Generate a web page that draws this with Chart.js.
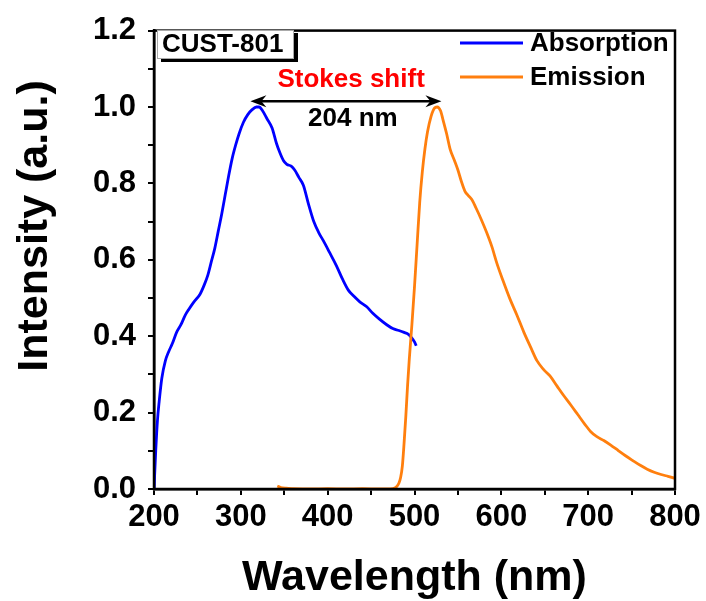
<!DOCTYPE html>
<html>
<head>
<meta charset="utf-8">
<script src="https://cdn.jsdelivr.net/npm/chart.js@4.4.0/dist/chart.umd.min.js"></script>
<style>
  html, body { margin: 0; padding: 0; background: #fff; }
  #wrap { width: 706px; height: 601px; }
</style>
</head>
<body>
<div id="wrap"><canvas id="chart" width="706" height="601"></canvas></div>
<script>
// ---------- DATA ----------
const absX = [200,201,202,204,206,209,213,217,221,226,231,236,240,246,253,258,262,266,270,274,278,282,286,290,294,298,303,308,313,318,321,325,330,336,341,345,349,353,358,362,367,372,378,384,390,395,402,410,417,424,430,437,445,452,460,468,475,482,488,493,497,500,502];
const absY = [0,0.05,0.10,0.18,0.23,0.29,0.335,0.36,0.38,0.41,0.43,0.455,0.47,0.49,0.51,0.535,0.56,0.595,0.63,0.675,0.72,0.77,0.82,0.865,0.9,0.93,0.96,0.98,0.993,1.0,1.0,0.99,0.97,0.945,0.905,0.88,0.86,0.85,0.845,0.835,0.815,0.795,0.745,0.7,0.67,0.65,0.62,0.585,0.55,0.52,0.505,0.49,0.477,0.46,0.444,0.43,0.42,0.415,0.41,0.405,0.395,0.385,0.375];

const emX = [342,346,352,360,380,400,420,440,460,475,479,482,484,486,488,490,492,494,497,500,503,506,509,512,515,519,523,526,530,533,537,541,546,550,554,558,562,566,571,577,583,589,595,602,610,618,626,634,641,649,656,664,672,680,688,696,703,710,718,726,735,743,751,760,768,776,784,792,800];
const emY = [0.008,0.004,0.002,0.001,0,0.001,0,0.001,0,0.001,0.005,0.015,0.03,0.06,0.12,0.19,0.27,0.34,0.43,0.53,0.64,0.75,0.83,0.89,0.935,0.975,0.997,1.0,0.99,0.965,0.93,0.89,0.86,0.835,0.805,0.78,0.768,0.758,0.735,0.705,0.672,0.635,0.59,0.545,0.497,0.455,0.41,0.37,0.336,0.312,0.296,0.27,0.244,0.22,0.195,0.17,0.15,0.137,0.127,0.115,0.1,0.087,0.075,0.062,0.052,0.044,0.038,0.033,0.028];

const seriesNames = ["Absorption", "Emission"];
const seriesColors = ["#0000ff", "#ff7f0e"];
const sampleName = "CUST-801";
const shiftTitle = "Stokes shift";
const shiftText = "204 nm";
const arrowFrom = 311;   // nm
const arrowTo = 531;     // nm
const arrowY = 1.015;

const FONT = "'Liberation Sans', Arial, sans-serif";

function toPoints(xs, ys) {
  return xs.map((x, i) => ({ x: x, y: ys[i] }));
}

// ---------- DECORATION ----------
const decor = {
  id: "decor",
  afterDraw(chart) {
    const ctx = chart.ctx;
    const a = chart.chartArea;
    const xs = chart.scales.x;
    const ys = chart.scales.y;
    ctx.save();

    // frame
    ctx.strokeStyle = "#000";
    ctx.lineWidth = 2.5;
    ctx.strokeRect(a.left, a.top, a.right - a.left, a.bottom - a.top);

    // y title
    ctx.save();
    ctx.translate(35, 226);
    ctx.rotate(-Math.PI / 2);
    ctx.fillStyle = "#000";
    ctx.font = "bold 43px " + FONT;
    ctx.textAlign = "center";
    ctx.textBaseline = "middle";
    ctx.fillText("Intensity (a.u.)", 0, 0);
    ctx.restore();

    // sample box with shadow
    ctx.fillStyle = "#000";
    ctx.fillRect(161, 33, 137, 29);
    ctx.fillStyle = "#fff";
    ctx.fillRect(157, 30, 137, 29);
    ctx.strokeStyle = "#aaa";
    ctx.lineWidth = 1;
    ctx.strokeRect(157.5, 30.5, 136, 28);
    ctx.fillStyle = "#000";
    ctx.font = "bold 26px " + FONT;
    ctx.textAlign = "left";
    ctx.textBaseline = "middle";
    ctx.fillText(sampleName, 162, 45);

    // legend
    const legY = [43, 77];
    seriesNames.forEach((name, i) => {
      ctx.strokeStyle = seriesColors[i];
      ctx.lineWidth = 2.8;
      ctx.beginPath();
      ctx.moveTo(460, legY[i]);
      ctx.lineTo(523, legY[i]);
      ctx.stroke();
      ctx.fillStyle = "#000";
      ctx.font = "bold 26px " + FONT;
      ctx.textAlign = "left";
      ctx.textBaseline = "middle";
      ctx.fillText(name, 530, legY[i] + 1);
    });

    // stokes shift arrow
    const x1 = xs.getPixelForValue(arrowFrom);
    const x2 = xs.getPixelForValue(arrowTo);
    const y0 = ys.getPixelForValue(arrowY);
    ctx.strokeStyle = "#000";
    ctx.lineWidth = 2.5;
    ctx.beginPath();
    ctx.moveTo(x1 + 8, y0);
    ctx.lineTo(x2 - 8, y0);
    ctx.stroke();
    ctx.fillStyle = "#000";
    ctx.beginPath();
    ctx.moveTo(x1, y0);
    ctx.lineTo(x1 + 16, y0 - 6);
    ctx.lineTo(x1 + 11, y0);
    ctx.lineTo(x1 + 16, y0 + 6);
    ctx.closePath();
    ctx.fill();
    ctx.beginPath();
    ctx.moveTo(x2, y0);
    ctx.lineTo(x2 - 16, y0 - 6);
    ctx.lineTo(x2 - 11, y0);
    ctx.lineTo(x2 - 16, y0 + 6);
    ctx.closePath();
    ctx.fill();

    const cx = xs.getPixelForValue(427);
    ctx.textAlign = "center";
    ctx.textBaseline = "middle";
    ctx.fillStyle = "#ff0000";
    ctx.font = "bold 26px " + FONT;
    ctx.fillText(shiftTitle, cx, ys.getPixelForValue(1.072));
    ctx.fillStyle = "#000";
    ctx.fillText(shiftText, xs.getPixelForValue(429), ys.getPixelForValue(0.97));

    ctx.restore();
  }
};

// ---------- CHART ----------
const ctx = document.getElementById("chart").getContext("2d");
new Chart(ctx, {
  type: "line",
  data: {
    datasets: [
      {
        label: seriesNames[0],
        data: toPoints(absX, absY),
        borderColor: seriesColors[0],
        borderWidth: 2.8,
        pointRadius: 0,
        fill: false,
        cubicInterpolationMode: "monotone",
        order: 2
      },
      {
        label: seriesNames[1],
        data: toPoints(emX, emY),
        borderColor: seriesColors[1],
        borderWidth: 2.8,
        pointRadius: 0,
        fill: false,
        cubicInterpolationMode: "monotone",
        order: 1
      }
    ]
  },
  options: {
    responsive: false,
    animation: false,
    layout: { padding: { left: 0, right: 31, top: 25, bottom: 0 } },
    plugins: {
      legend: { display: false },
      tooltip: { enabled: false }
    },
    scales: {
      x: {
        type: "linear",
        min: 200,
        max: 800,
        afterFit: (s) => { s.height = 112; },
        border: { display: true, color: "#000", width: 2.5 },
        grid: { drawOnChartArea: false, drawTicks: true, tickLength: 6, color: "#000", lineWidth: 2 },
        ticks: {
          stepSize: 50,
          autoSkip: false,
          maxRotation: 0,
          padding: 4,
          color: "#000",
          font: { family: FONT, size: 31, weight: "bold" },
          callback: (v) => (v % 100 === 0 ? String(v) : "")
        },
        title: {
          display: true,
          text: "Wavelength (nm)",
          color: "#000",
          padding: { top: 0, bottom: 0 },
          font: { family: FONT, size: 43, weight: "bold", lineHeight: 1.05 }
        }
      },
      y: {
        min: 0,
        max: 1.2,
        afterFit: (s) => { s.width = 154; },
        border: { display: true, color: "#000", width: 2.5 },
        grid: { drawOnChartArea: false, drawTicks: true, tickLength: 6, color: "#000", lineWidth: 2 },
        ticks: {
          stepSize: 0.1,
          autoSkip: false,
          padding: 12,
          color: "#000",
          font: { family: FONT, size: 31, weight: "bold" },
          callback: (v) => (Math.round(v * 10) % 2 === 0 ? v.toFixed(1) : "")
        }
      }
    }
  },
  plugins: [decor]
});
</script>
</body>
</html>
